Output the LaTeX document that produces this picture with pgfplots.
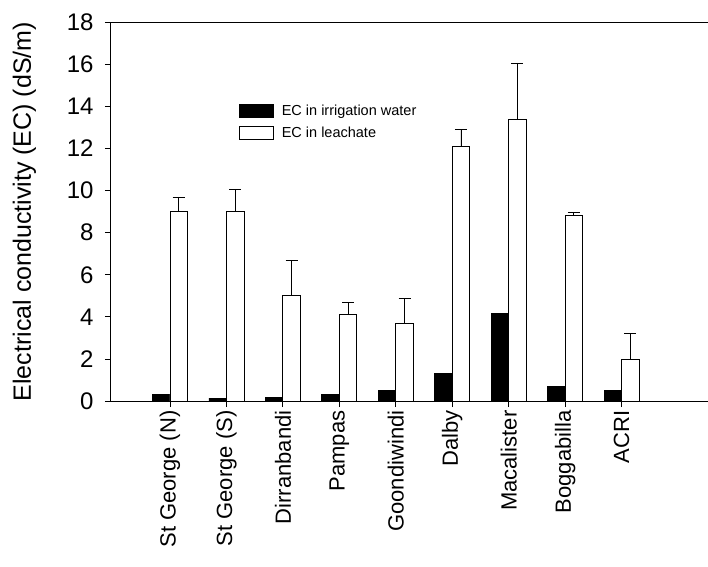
\documentclass[border=0pt]{standalone}
\usepackage{fontspec}
\setmainfont{Liberation Sans}
\usepackage{pgfplots}
\usepackage{pgfplotstable}
\pgfplotsset{compat=1.18}
\pgfplotstableread{
x black white err
0 0.30 9.00 0.70
1 0.14 9.00 1.07
2 0.19 5.00 1.68
3 0.30 4.10 0.59
4 0.51 3.68 1.21
5 1.33 12.08 0.81
6 4.15 13.38 2.69
7 0.71 8.80 0.17
8 0.51 2.00 1.19
}\datatab
\begin{document}
\begin{tikzpicture}
\path[use as bounding box] (-111pt,-165pt) rectangle (597pt,401pt);
\begin{axis}[
  at={(0pt,0pt)}, anchor=south west,
  scale only axis, width=600pt, height=378.7pt,
  xmin=-1.045, xmax=9.584, ymin=0, ymax=18,
  axis line style={line width=1pt},
  clip=false,
  xtick pos=bottom, ytick pos=left,
  ytick={0,2,...,18}, xtick={0,...,8},
  xticklabels={St George (N),St George (S),Dirranbandi,Pampas,Goondiwindi,Dalby,Macalister,Boggabilla,ACRI},
  tick align=outside, major tick length=6pt,
  tick style={black, line width=0.8pt},
  x tick label style={rotate=90, anchor=east, font=\fontsize{22}{26}\selectfont},
  y tick label style={font=\fontsize{24}{28}\selectfont, /pgf/number format/assume math mode=true, xshift=-8pt},
  ylabel={Electrical conductivity (EC) (dS/m)},
  every axis y label/.style={at={(rel axis cs:0,0.5)}, xshift=-86.5pt, rotate=90, anchor=center, font=\fontsize{25}{30}\selectfont},
  ybar=0pt, bar width=17.5pt,
  legend style={at={(rel axis cs:0.213,0.787)}, anchor=north west, draw=none, fill=none,
    font=\fontsize{14.5}{17}\selectfont, row sep=6pt, inner sep=0pt},
  legend cell align=left,
  legend image code/.code={\draw[#1] (0pt,-6.5pt) rectangle (34pt,6.5pt); \path (40pt,0pt);},
]
\addplot[fill=black, draw=black, line width=0.8pt] table[x=x, y=black] {\datatab};
\addplot[fill=white, draw=black, line width=0.8pt,
  error bars/.cd, y dir=plus, y explicit,
  error bar style={line width=0.8pt, black},
  error mark options={rotate=90, line width=0.8pt, black, mark size=6pt}]
  table[x=x, y=white, y error=err] {\datatab};
\legend{EC in irrigation water, EC in leachate}
\end{axis}
\end{tikzpicture}
\end{document}
